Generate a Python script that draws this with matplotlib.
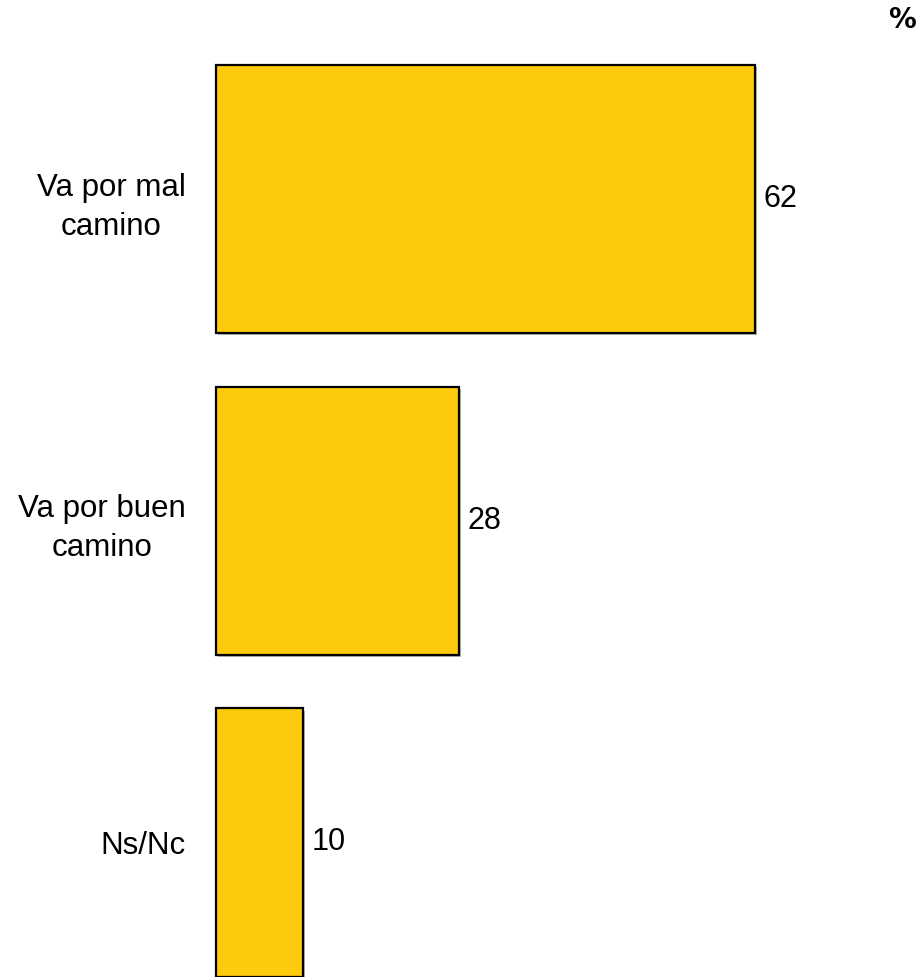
import matplotlib
matplotlib.use('Agg')
from matplotlib import pyplot as plt
import matplotlib.patheffects as pe
import numpy as np

categories = ['Va por mal\ncamino', 'Va por buen\ncamino', 'Ns/Nc']
values = [62, 28, 10]

plt.rcParams['font.family'] = ['Liberation Sans', 'DejaVu Sans']

W, H = 922, 977
fig = plt.figure(figsize=(W / 100, H / 100), dpi=100)
ax = fig.add_axes([216 / W, 0, (W - 216) / W, 1])

y = np.arange(len(categories))
bars = ax.barh(y, values, height=0.833, color='#FDCA0C', edgecolor='black', linewidth=1.6)
for b in bars:
    b.set_clip_on(False)
    b.set_path_effects([pe.SimplePatchShadow(offset=(1.5, -1.5), shadow_rgbFace='#888888', alpha=0.6),
                        pe.Normal()])

# numbers next to the bars
for b, v in zip(bars, values):
    ax.annotate(str(v), (b.get_width(), b.get_y() + b.get_height() / 2),
                xytext=(6, 0), textcoords='offset points',
                ha='left', va='center', fontsize=22)

ax.set_xlim(0, (W - 216) / 8.69)
ax.set_ylim(2 + (H - 842.5) / 321.75, -199 / 321.75)
ax.set_yticks(y)
ax.set_yticklabels(categories, fontsize=22.5, multialignment='center', linespacing=1.4)
ax.tick_params(axis='y', length=0, pad=22)
ax.set_xticks([])
for s in ax.spines.values():
    s.set_visible(False)

fig.text(902 / W, 1 - 20 / H, '%', ha='center', va='center', fontsize=20,
         fontweight='bold', family=['DejaVu Sans'])

fig.savefig('out.png', dpi=100)
